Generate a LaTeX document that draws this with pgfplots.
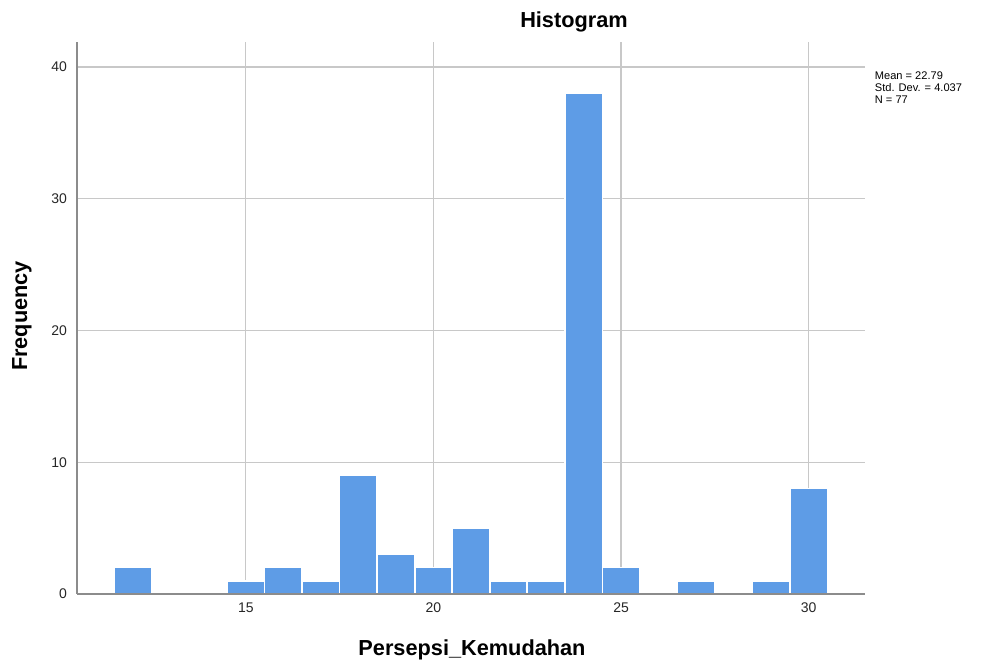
\documentclass[border=0pt]{standalone}
\usepackage{pgfplots}
\pgfplotsset{compat=1.18}
\usepackage{fontspec}
\setmainfont{Liberation Sans}
\definecolor{barblue}{RGB}{94,156,230}
\definecolor{gridgray}{RGB}{200,200,200}
\definecolor{axgray}{RGB}{140,140,140}
\begin{document}
\begin{tikzpicture}
\path (0,0) rectangle (750.75pt,499.5pt);
\begin{axis}[
  at={(57.75pt,54pt)}, anchor=south west,
  scale only axis, width=591pt, height=414pt,
  xmin=10.5, xmax=31.5, ymin=0, ymax=41.9,
  axis x line*=bottom, axis y line*=left,
  axis line style={axgray, line width=1.2pt},
  xtick={15,20,25,30}, ytick={0,10,20,30,40},
  major tick length=0pt,
  grid=major, major grid style={gridgray, line width=0.9pt},
  tick label style={font=\fontsize{10.5}{12}\selectfont, text=black!85},
  /pgf/number format/assume math mode=true,
  xticklabel style={yshift=-3pt},
  yticklabel style={xshift=-4pt},
  clip=false,
]
\addplot[ybar, bar width=1, bar shift=0, fill=barblue, draw=white, line width=1.2pt] coordinates {
(12,2) (15,1) (16,2) (17,1) (18,9) (19,3) (20,2) (21,5) (22,1) (23,1) (24,38) (25,2) (27,1) (29,1) (30,8)
};
\draw[axgray, line width=1.2pt] (axis cs:10.5,0) -- (axis cs:31.5,0);
\end{axis}
\node[font=\bfseries\fontsize{16.3}{18}\selectfont] at (430.5pt,483pt) {Histogram};
\node[font=\bfseries\fontsize{16.3}{18}\selectfont, rotate=90] at (16.5pt,262.5pt) {Frequency};
\node[font=\bfseries\fontsize{16.3}{18}\selectfont] at (354pt,12pt) {Persepsi\_Kemudahan};
\node[anchor=north west, align=left, inner sep=0pt, font=\fontsize{8.3}{9.2}\selectfont] at (656pt,446pt) {Mean = 22.79\\Std. Dev. = 4.037\\N = 77};
\end{tikzpicture}
\end{document}
